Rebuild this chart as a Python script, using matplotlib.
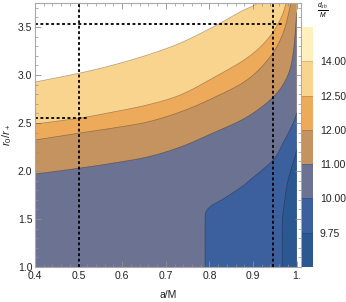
import numpy as np
import matplotlib
matplotlib.use("Agg")
import matplotlib.pyplot as plt
from matplotlib.ticker import MultipleLocator, FixedLocator

plt.rcParams["font.family"] = ["Liberation Sans", "DejaVu Sans"]
plt.rcParams["mathtext.fontset"] = "custom"
plt.rcParams["mathtext.rm"] = "Liberation Sans"
plt.rcParams["mathtext.it"] = "Liberation Sans:italic"

# ---- data ----
x_range = (0.4, 1.01)
y_range = (1.0, 3.75)

# contour boundaries (a/M, r0/r+)
b_white_peach_x = [0.400, 0.503, 0.579, 0.657, 0.733, 0.808, 0.870, 0.911, 0.930]
b_white_peach_y = [2.927, 3.021, 3.104, 3.208, 3.333, 3.500, 3.656, 3.750, 3.850]
b_peach_orange_x = [0.400, 0.503, 0.579, 0.657, 0.733, 0.808, 0.886, 0.932, 0.962, 0.976, 0.982]
b_peach_orange_y = [2.490, 2.552, 2.615, 2.688, 2.792, 2.969, 3.177, 3.365, 3.573, 3.750, 3.850]
b_orange_tan_x = [0.400, 0.503, 0.579, 0.657, 0.733, 0.808, 0.886, 0.939, 0.969, 0.987, 0.992]
b_orange_tan_y = [2.323, 2.396, 2.448, 2.510, 2.615, 2.760, 2.948, 3.188, 3.438, 3.750, 3.850]
b_tan_slate_x = [0.400, 0.503, 0.579, 0.657, 0.733, 0.808, 0.886, 0.946, 0.978, 0.992, 1.000]
b_tan_slate_y = [1.969, 2.031, 2.083, 2.146, 2.250, 2.396, 2.563, 2.771, 2.979, 3.229, 3.650]
b_slate_blue_x = [0.790, 0.790, 0.793, 0.805, 0.831, 0.870, 0.893, 0.946, 0.969, 0.992, 1.000]
b_slate_blue_y = [1.000, 1.500, 1.580, 1.640, 1.708, 1.823, 1.906, 2.115, 2.292, 2.500, 2.604]
b_blue_dark_x = [0.967, 0.967, 0.970, 0.978, 0.987, 0.996, 1.000]
b_blue_dark_y = [1.000, 1.440, 1.600, 1.854, 2.010, 2.146, 2.220]

# dashed guide lines
vlines_x = [0.5, 0.945]
hlines = [(3.53, 0.4, 0.97), (2.55, 0.4, 0.52)]

# colour levels
cbar_labels = ["14.00", "12.50", "12.00", "11.00", "10.00", "9.75"]
cbar_colors = ["#2C5891", "#3B609D", "#6B7292", "#C5935F", "#EDAA5B", "#F9D48E", "#FFF0BE"]

c_peach, c_orange, c_tan, c_slate, c_blue, c_dark = "#F9D48E", "#EDAA5B", "#C5935F", "#6B7292", "#3B609D", "#2C5891"


def smooth(xs, ys, n=12):
    """Catmull-Rom curve through the given points (drawing only)."""
    p = np.column_stack([xs, ys]).astype(float)
    p = np.vstack([p[0], p, p[-1]])
    out = []
    for i in range(1, len(p) - 2):
        p0, p1, p2, p3 = p[i - 1], p[i], p[i + 1], p[i + 2]
        t = np.linspace(0, 1, n, endpoint=False)[:, None]
        seg = 0.5 * ((2 * p1) + (-p0 + p2) * t + (2 * p0 - 5 * p1 + 4 * p2 - p3) * t ** 2
                     + (-p0 + 3 * p1 - 3 * p2 + p3) * t ** 3)
        out.append(seg)
    out.append(p[-2][None, :])
    c = np.vstack(out)
    return c[:, 0], c[:, 1]


fig = plt.figure(figsize=(3.46, 3.02), dpi=100)
ax = fig.add_axes([35/346, 35/302, 266/346, 264/302])
ax.set_xlim(*x_range)
ax.set_ylim(*y_range)

XR = 1.0
YB = 1.0
YT = 3.9
line_c = "#00000050"

def fill_below(bx, by, color):
    sx, sy = smooth(bx, by)
    px = list(sx) + [XR, XR, sx[0]]
    py = list(sy) + [YT, YB, YB]
    ax.fill(px, py, color=color, lw=0)
    ax.plot(sx, sy, color=line_c, lw=0.5)

fill_below(b_white_peach_x, b_white_peach_y, c_peach)
fill_below(b_peach_orange_x, b_peach_orange_y, c_orange)
fill_below(b_orange_tan_x, b_orange_tan_y, c_tan)
sx, sy = smooth(b_tan_slate_x, b_tan_slate_y)
ax.fill(list(sx) + [XR, sx[0]], list(sy) + [YB, YB], color=c_slate, lw=0)
ax.plot(sx, sy, color=line_c, lw=0.5)

def fill_right(bx, by, color):
    sx, sy = smooth(bx, by)
    ax.fill(list(sx) + [XR], list(sy) + [YB], color=color, lw=0)
    ax.plot(sx, sy, color=line_c, lw=0.5)

fill_right(b_slate_blue_x, b_slate_blue_y, c_blue)
fill_right(b_blue_dark_x, b_blue_dark_y, c_dark)

ds = (0, (1.6, 1.4))
for xv in vlines_x:
    ax.plot([xv, xv], [y_range[0], y_range[1]], color="black", lw=1.3, ls=ds)
for yv, x0, x1 in hlines:
    ax.plot([x0, x1], [yv, yv], color="black", lw=1.3, ls=ds)

# frame & ticks
for s in ax.spines.values():
    s.set_color("#A8A8A8")
    s.set_linewidth(0.8)
ax.xaxis.set_major_locator(FixedLocator([0.4, 0.5, 0.6, 0.7, 0.8, 0.9, 1.0]))
ax.set_xticklabels(["0.4", "0.5", "0.6", "0.7", "0.8", "0.9", "1."])
ax.xaxis.set_minor_locator(MultipleLocator(0.02))
ax.yaxis.set_major_locator(FixedLocator([1.0, 1.5, 2.0, 2.5, 3.0, 3.5]))
ax.set_yticklabels(["1.0", "1.5", "2.0", "2.5", "3.0", "3.5"])
ax.yaxis.set_minor_locator(MultipleLocator(0.1))
ax.tick_params(which="both", direction="in", top=True, right=True, color="#909090",
               labelsize=7.5, labelcolor="#222222")
ax.tick_params(axis="x", pad=3)
ax.tick_params(axis="y", pad=2)
ax.tick_params(which="major", length=4, width=0.6)
ax.tick_params(which="minor", length=2, width=0.5)
ax.set_xlabel("a/M", fontsize=7.5, labelpad=6, color="#222222")
ax.set_ylabel(r"$r_0/r_+$", fontsize=8, labelpad=3, color="#222222")

# colour bar
cax = fig.add_axes([302/346, 35/302, 11/346, 240/302])
n = len(cbar_colors)
for i, c in enumerate(cbar_colors):
    cax.fill_between([0, 1], i, i + 1, color=c, lw=0)
    if i > 0:
        cax.plot([0, 1], [i, i], color="#00000030", lw=0.5)
cax.set_xlim(0, 1)
cax.set_ylim(0, n)
cax.set_xticks([])
cax.set_yticks(list(range(1, n)))
cax.set_yticklabels(cbar_labels[::-1])
cax.yaxis.tick_right()
cax.tick_params(axis="y", length=0, labelsize=7.5, pad=5, labelcolor="#222222")
for s in cax.spines.values():
    s.set_visible(False)
fig.text(323/346, 1 - 10/302, r"$\frac{d_{sh}}{M}$", fontsize=7, ha="center", va="center")

fig.savefig("out.png", dpi=100)
